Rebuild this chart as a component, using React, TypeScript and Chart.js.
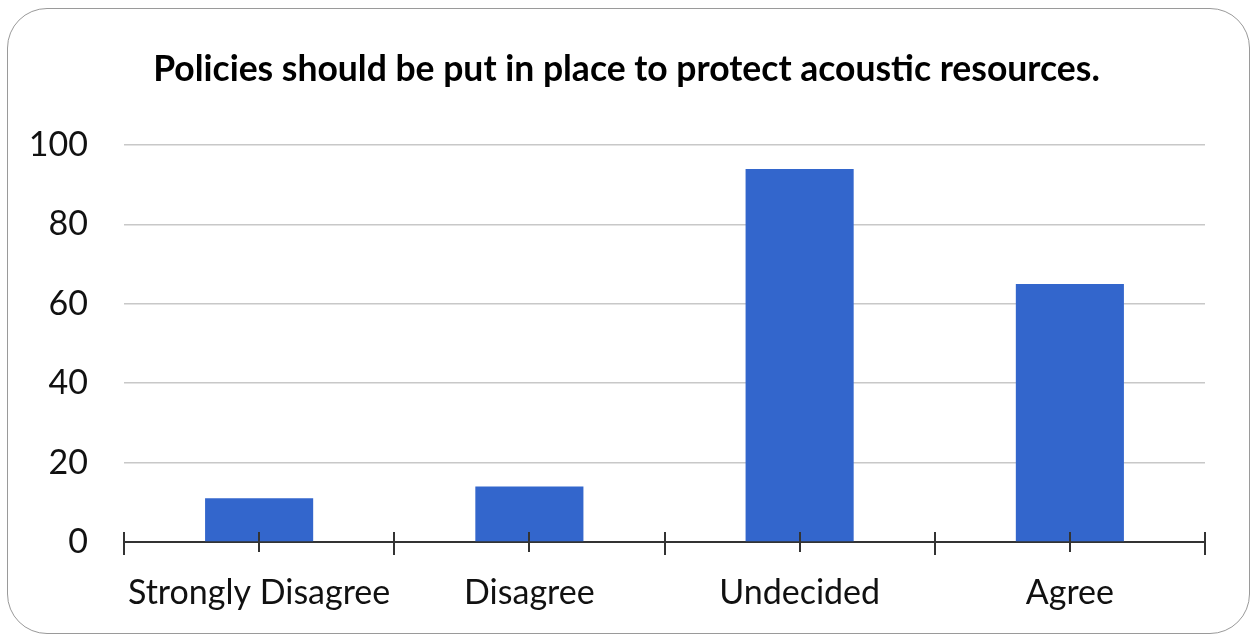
import React, { useEffect, useRef } from "react";
import { Chart, registerables } from "chart.js";

Chart.register(...registerables);

const TITLE = "Policies should be put in place to protect acoustic resources.";
const categories = ["Strongly Disagree", "Disagree", "Undecided", "Agree"];
const responses = [11, 14, 94, 65];
const yMin = 0;
const yMax = 100;
const yStep = 20;

const FONT = "Lato, 'Open Sans', sans-serif";

const tickPlugin = {
  id: "categoryTicks",
  afterDraw(chart: any) {
    const xs = chart.scales.x;
    const ys = chart.scales.y;
    const ctx = chart.ctx;
    const y0 = ys.getPixelForValue(0);
    ctx.save();
    ctx.strokeStyle = "#333333";
    ctx.lineWidth = 2;
    ctx.beginPath();
    for (let i = 0; i <= categories.length; i++) {
      const px = Math.round(xs.getPixelForValue(i - 0.5));
      ctx.moveTo(px, y0 - 10);
      ctx.lineTo(px, y0 + 13);
    }
    for (let i = 0; i < categories.length; i++) {
      const px = Math.round(xs.getPixelForValue(i));
      ctx.moveTo(px, y0 - 10);
      ctx.lineTo(px, y0 + 10);
    }
    ctx.stroke();
    ctx.restore();
  },
};

export default function App() {
  const ref = useRef<HTMLCanvasElement | null>(null);

  useEffect(() => {
    if (!ref.current) return;
    const chart = new Chart(ref.current, {
      type: "bar",
      data: {
        labels: categories,
        datasets: [
          {
            label: "Responses",
            data: responses,
            backgroundColor: "#3366CC",
            borderWidth: 0,
            barPercentage: 0.4,
            categoryPercentage: 1.0,
          },
        ],
      },
      options: {
        animation: false,
        responsive: false,
        layout: { padding: { left: 0, right: 0, top: 0, bottom: 0 } },
        plugins: {
          legend: { display: false },
          tooltip: { enabled: false },
          title: {
            display: true,
            text: TITLE,
            color: "#000000",
            font: { family: FONT, size: 35.5, weight: "bold" },
            padding: { top: 48.5, bottom: 54 },
          },
        },
        scales: {
          x: {
            offset: true,
            grid: { display: false, drawTicks: false },
            border: { display: true, color: "#333333", width: 2 },
            ticks: {
              color: "#111111",
              font: { family: FONT, size: 34 },
              padding: 31,
              maxRotation: 0,
              autoSkip: false,
            },
            afterFit(scale: any) {
              scale.height = 95;
            },
          },
          y: {
            min: yMin,
            max: yMax,
            grid: { color: "#c8c8c8", lineWidth: 1.5, drawTicks: false },
            border: { display: false },
            ticks: {
              stepSize: yStep,
              color: "#111111",
              font: { family: FONT, size: 34 },
              padding: 36,
            },
            afterFit(scale: any) {
              scale.width = 124;
            },
          },
          yRight: {
            position: "right",
            min: yMin,
            max: yMax,
            grid: { display: false, drawTicks: false },
            border: { display: false },
            ticks: { display: false },
            afterFit(scale: any) {
              scale.width = 48;
            },
          },
        },
      },
      plugins: [tickPlugin],
    });
    return () => chart.destroy();
  }, []);

  return (
    <div style={{ position: "absolute", left: 0, top: 0, width: 1253, height: 637, background: "#ffffff" }}>
      <div
        style={{
          position: "absolute",
          left: 7,
          top: 8,
          width: 1241,
          height: 624,
          border: "1.5px solid #9a9a9a",
          borderRadius: 40,
        }}
      />
      <canvas ref={ref} width={1253} height={637} style={{ position: "absolute", left: 0, top: 0 }} />
    </div>
  );
}
